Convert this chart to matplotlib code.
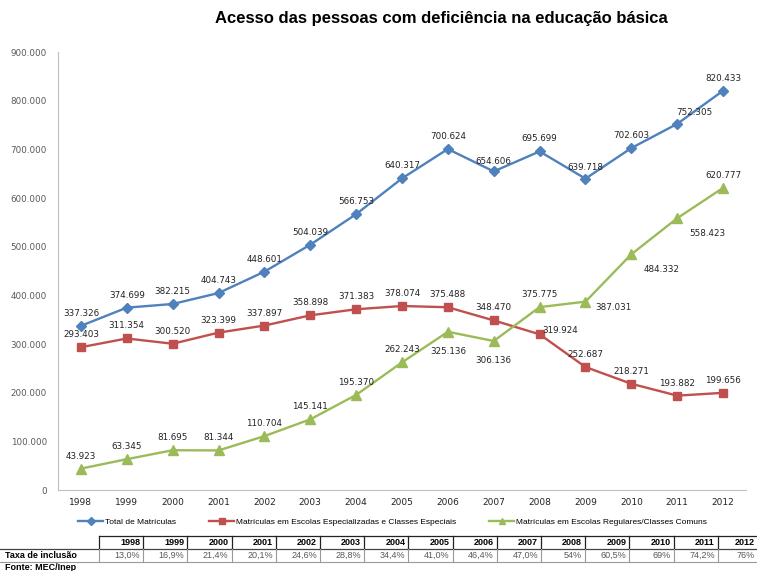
import matplotlib
matplotlib.use("Agg")
import matplotlib.pyplot as plt
from matplotlib.lines import Line2D
from matplotlib.ticker import FuncFormatter

# ----------------------------------------------------------
# data
# ----------------------------------------------------------
anos = [1998, 1999, 2000, 2001, 2002, 2003, 2004, 2005,
        2006, 2007, 2008, 2009, 2010, 2011, 2012]
total = [337326, 374699, 382215, 404743, 448601, 504039, 566753, 640317,
         700624, 654606, 695699, 639718, 702603, 752305, 820433]
especiais = [293403, 311354, 300520, 323399, 337897, 358898, 371383, 378074,
             375488, 348470, 319924, 252687, 218271, 193882, 199656]
comuns = [43923, 63345, 81695, 81344, 110704, 145141, 195370, 262243,
          325136, 306136, 375775, 387031, 484332, 558423, 620777]
taxa = ["13,0%", "16,9%", "21,4%", "20,1%", "24,6%", "28,8%", "34,4%", "41,0%",
        "46,4%", "47,0%", "54%", "60,5%", "69%", "74,2%", "76%"]

nomes = ["Total de Matrículas",
         "Matrículas em Escolas Especializadas e Classes Especiais",
         "Matrículas em Escolas Regulares/Classes Comuns"]

# ----------------------------------------------------------
# style
# ----------------------------------------------------------
W, H = 757, 571
AZUL, VERM, VERDE = "#4F81BD", "#C0504D", "#9BBB59"
CINZA = "#595959"
NARROW = ["Liberation Sans Narrow", "Liberation Sans", "DejaVu Sans"]

# label offsets (points), default above
off_total = {9: (0, 7), 11: (0, 8), 13: (12, 8)}
off_esp = {10: (15, 3)}
off_com = {8: (0, -14), 9: (0, -14), 11: (20, -4), 12: (22, -11), 13: (22, -11)}


def fmt(v):
    return f"{v:,}".replace(",", ".")


def px(x, y):
    return x / W, 1 - y / H


fig = plt.figure(figsize=(W / 100, H / 100), dpi=100)
ax = fig.add_axes([58 / W, (H - 490) / H, (746 - 58) / W, (490 - 52) / H])

xs = list(range(len(anos)))
series = [
    (total, AZUL, "D", 5, off_total),
    (especiais, VERM, "s", 6, off_esp),
    (comuns, VERDE, "^", 7, off_com),
]
for vals, cor, mk, ms, offs in series:
    ax.plot(xs, vals, color=cor, lw=1.7, marker=mk, ms=ms, mec=cor, mfc=cor)
    for i, v in enumerate(vals):
        dx, dy = offs.get(i, (0, 9))
        ax.annotate(fmt(v), (i, v), xytext=(dx, dy), textcoords="offset points",
                    ha="center", va="center", fontsize=6.3, color="#222222")

ax.set_xlim(-0.5, len(anos) - 0.5)
ax.set_ylim(0, 900000)
ax.set_yticks(range(0, 900001, 100000))
ax.yaxis.set_major_formatter(FuncFormatter(lambda v, p: fmt(int(v))))
ax.set_xticks(xs)
ax.set_xticklabels([str(a) for a in anos], fontsize=6.5, color="#222222")
ax.tick_params(axis="y", labelsize=6.3, labelcolor=CINZA, length=0, pad=8)
ax.tick_params(axis="x", length=0, pad=6)
for s in ["top", "right"]:
    ax.spines[s].set_visible(False)
for s in ["left", "bottom"]:
    ax.spines[s].set_color("#BFBFBF")

fig.text(*px(441, 18), "Acesso das pessoas com deficiência na educação básica",
         ha="center", va="center", fontsize=12, fontweight="bold", family=NARROW)

# legend
handles = [Line2D([], [], color=c, lw=1.7, marker=m, ms=4.5, mec=c, mfc=c)
           for c, m in [(AZUL, "D"), (VERM, "s"), (VERDE, "^")]]
fig.legend(handles, nomes, loc="center left", bbox_to_anchor=px(78, 522),
           ncol=3, frameon=False, prop={"family": NARROW, "size": 6.0},
           handlelength=3.0, handletextpad=0.2, columnspacing=4.0,
           borderpad=0, borderaxespad=0)

# table
x0, cw = 99, 44.2
y0, rh = 536, 13
xr = x0 + cw * len(anos)
fig.add_artist(Line2D(*zip(px(x0, y0), px(xr, y0)), color="#222222", lw=0.9))
fig.add_artist(Line2D(*zip(px(0, y0 + rh), px(xr, y0 + rh)), color="#444444", lw=0.9))
fig.add_artist(Line2D(*zip(px(0, y0 + 2 * rh), px(xr, y0 + 2 * rh)), color="#999999", lw=0.8))
for i in range(len(anos) + 1):
    xb = x0 + cw * i
    fig.add_artist(Line2D(*zip(px(xb, y0), px(xb, y0 + rh)), color="#222222", lw=0.9))
    fig.add_artist(Line2D(*zip(px(xb, y0 + rh), px(xb, y0 + 2 * rh)), color="#999999", lw=0.8))
for i, (a, t) in enumerate(zip(anos, taxa)):
    xt = min(x0 + cw * (i + 1) - 3, W - 2)
    fig.text(*px(xt, y0 + rh / 2), str(a), ha="right", va="center",
             fontsize=6.5, fontweight="bold", family=NARROW)
    fig.text(*px(xt, y0 + 1.5 * rh), t, ha="right", va="center",
             fontsize=6.5, color=CINZA, family=NARROW)
fig.text(*px(5, y0 + 1.5 * rh), "Taxa de inclusão", ha="left", va="center",
         fontsize=6.5, fontweight="bold", family=NARROW)
fig.text(*px(5, 567), "Fonte: MEC/Inep", ha="left", va="center",
         fontsize=6.5, fontweight="bold", family=NARROW)

fig.savefig("out.png", dpi=100)
